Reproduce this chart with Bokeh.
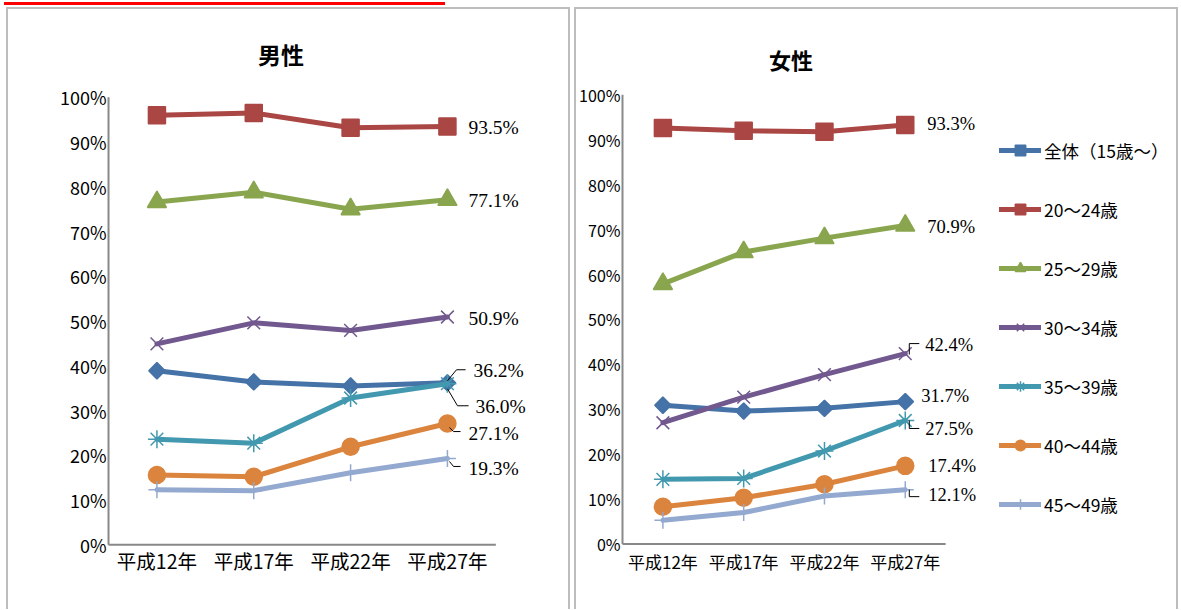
from bokeh.plotting import figure
from bokeh.models import (Range1d, FixedTicker, PrintfTickFormatter, ColumnDataSource,
                          LabelSet, Label, Legend, LegendItem, Div)
from bokeh.layouts import row, column
from bokeh.embed import file_html
from bokeh.resources import INLINE
import math

# ---------------- data ----------------
years = ["平成12年", "平成17年", "平成22年", "平成27年"]
series_names = ["全体（15歳～）", "20～24歳", "25～29歳", "30～34歳", "35～39歳", "40～44歳", "45～49歳"]
y_ticks = [0, 10, 20, 30, 40, 50, 60, 70, 80, 90, 100]

male_all = [38.9, 36.4, 35.5, 36.2]
male_20_24 = [96.0, 96.5, 93.2, 93.5]
male_25_29 = [76.6, 78.8, 75.0, 77.1]
male_30_34 = [44.9, 49.6, 47.9, 50.9]
male_35_39 = [23.6, 22.7, 32.8, 36.0]
male_40_44 = [15.6, 15.2, 21.9, 27.1]
male_45_49 = [12.3, 12.1, 16.1, 19.3]

female_all = [30.9, 29.6, 30.2, 31.7]
female_20_24 = [92.6, 92.0, 91.8, 93.3]
female_25_29 = [57.9, 65.0, 68.1, 70.9]
female_30_34 = [27.0, 32.7, 37.7, 42.4]
female_35_39 = [14.4, 14.6, 20.7, 27.5]
female_40_44 = [8.3, 10.3, 13.3, 17.4]
female_45_49 = [5.3, 7.0, 10.7, 12.1]

male = [male_all, male_20_24, male_25_29, male_30_34, male_35_39, male_40_44, male_45_49]
female = [female_all, female_20_24, female_25_29, female_30_34, female_35_39, female_40_44, female_45_49]

# ---------------- styles ----------------
colors = ["#4572A7", "#AA4643", "#89A54E", "#71588F", "#4198AF", "#DB843D", "#93A9CF"]
markers = [("square", 11.5, math.pi / 4), ("square", 17, 0), ("triangle", 19, 0), ("x", 18, 0),
           ("asterisk", 18, 0), ("circle", 17, 0), ("cross", 17, 0)]
CJK = "Noto Sans CJK JP"
LABEL_FONT = "Liberation Sans"
BORDER = "2px solid #bdbdbd"
AXIS_COLOR = "#898989"

# label offsets (dx right, dy down, px) from last marker, and leader polylines
male_label_off = [(26, -12), (21, 1), (21, 1), (21, 1), (28, 23), (21, 10), (21, 10)]
male_leaders = {0: [(18, -13), (9, -13), (0, -2)], 4: [(0, 5), (10, 22), (21, 22)],
                5: [(2, 4), (6, 8), (13, 8)], 6: [(2, 3), (6, 8), (13, 8)]}
female_label_off = [(16, -6), (22, -1), (22, 1), (20, -9), (20, 9), (23, 0), (23, 5)]
female_leaders = {3: [(4, 1), (4, -10), (14, -10)], 4: [(4, 0), (4, 8), (14, 8)],
                  6: [(4, 0), (4, 7), (14, 7)]}


def make_panel(title, data, width, height, geo, fonts, title_pos,
               label_off, leaders, with_legend, x_standoff):
    # geo: canvas page origin, axis pixel positions and scale (px per category / per %)
    cx0, cy0, ax_x, zero_y, u, v, f_left, f_bottom, f_top = geo
    tick_size, xlab_size, label_size, title_size = fonts
    cw, ch = width - 4, height - 2
    mb_left = f_left - cx0
    mb_bottom = (cy0 + ch) - f_bottom
    mb_top = f_top - cy0
    f_right = cx0 + cw
    p = figure(x_range=Range1d((f_left - ax_x) / u, (f_right - ax_x) / u),
               y_range=Range1d((zero_y - f_bottom) / v, (zero_y - f_top) / v),
               width=width, height=height, output_backend="svg", toolbar_location=None,
               min_border_left=mb_left, min_border_right=0,
               min_border_top=mb_top, min_border_bottom=mb_bottom)
    p.styles = {"border-top": BORDER, "border-left": BORDER, "border-right": BORDER}
    p.outline_line_color = None
    p.xgrid.grid_line_color = None
    p.ygrid.grid_line_color = None
    for ax in (p.xaxis[0], p.yaxis[0]):
        ax.axis_line_color = None
        ax.major_tick_line_color = None
        ax.minor_tick_line_color = None
        ax.major_tick_out = 0
        ax.major_tick_in = 0
        ax.minor_tick_out = 0
        ax.minor_tick_in = 0
        ax.major_label_text_font = CJK
        ax.major_label_text_color = "#000000"
    p.xaxis.major_label_text_font_size = f"{xlab_size}px"
    p.yaxis.major_label_text_font_size = f"{tick_size}px"
    p.xaxis.major_label_standoff = x_standoff
    p.yaxis.major_label_standoff = 0
    xpos = [i + 0.5 for i in range(len(years))]
    p.xaxis.ticker = FixedTicker(ticks=xpos)
    p.xaxis.major_label_overrides = {x: y for x, y in zip(xpos, years)}
    p.yaxis.ticker = FixedTicker(ticks=y_ticks)
    p.yaxis.formatter = PrintfTickFormatter(format="%d%%")

    # axis lines drawn in data space
    p.line([0, 0], [y_ticks[0], y_ticks[-1]], line_color=AXIS_COLOR, line_width=2)
    p.line([0, len(years)], [0, 0], line_color=AXIS_COLOR, line_width=2)

    items = []
    for i, vals in enumerate(data):
        src = ColumnDataSource(dict(x=xpos, y=vals))
        lr = p.line("x", "y", source=src, line_color=colors[i], line_width=5,
                    line_join="round", line_cap="round")
        m, s, a = markers[i]
        sr = p.scatter("x", "y", source=src, marker=m, size=s, angle=a,
                       fill_color=colors[i], line_color=colors[i], line_width=1.5)
        items.append(LegendItem(label=series_names[i], renderers=[lr, sr]))

    # leaders
    xs, ys = [], []
    for i, pts in leaders.items():
        last = data[i][-1]
        xs.append([xpos[-1] + dx / u for dx, dy in pts])
        ys.append([last - dy / v for dx, dy in pts])
    if xs:
        p.multi_line(xs, ys, line_color="black", line_width=1)

    # end labels
    lsrc = ColumnDataSource(dict(
        x=[xpos[-1]] * len(data),
        y=[d[-1] for d in data],
        text=[f"{d[-1]:.1f}%" for d in data],
        xo=[o[0] for o in label_off],
        yo=[-o[1] for o in label_off],
    ))
    p.add_layout(LabelSet(x="x", y="y", text="text", source=lsrc, x_offset="xo", y_offset="yo",
                          text_font=LABEL_FONT, text_font_size=f"{label_size}px",
                          text_baseline="middle", text_align="left", text_color="black"))

    # title
    tx, ty = title_pos
    p.add_layout(Label(x=(tx - ax_x) / u, y=(zero_y - ty) / v, text=title, text_font=CJK,
                       text_font_size=f"{title_size}px", text_font_style="bold",
                       text_align="center", text_baseline="middle", text_color="black"))

    if with_legend:
        leg = Legend(items=items, location=(1000 - f_left, f_bottom - 520), orientation="vertical",
                     glyph_width=42, glyph_height=26, label_height=26, label_standoff=3,
                     spacing=33, padding=0, margin=0, border_line_color=None,
                     background_fill_alpha=0, label_text_font=CJK,
                     label_text_font_size="17.5px", label_text_color="black")
        p.add_layout(leg, "center")
    return p


# geo = (canvas x0, canvas y0, y-axis x, zero-line y, px/category, px/%, frame left, frame bottom, frame top)
p_male = make_panel("男性", male, 564, 602, (11, 11, 111, 544.3, 96, 4.458, 109, 546, 20),
                    (18, 19.5, 19.5, 23), (282, 55), male_label_off, male_leaders, False, -1)
p_female = make_panel("女性", female, 604, 602, (579, 11, 623, 546.5, 80.5, 4.5, 621, 549, 20),
                      (16, 17, 18.5, 22), (791, 61), female_label_off, female_leaders, True, 2)

red_rule = Div(text="", width=441, height=3, margin=(2, 0, 2, 4),
               styles={"background-color": "#ff0000"})
panels = row(p_male, p_female, spacing=4, margin=(0, 0, 0, 6))
layout = column(red_rule, panels, spacing=0)

open("out.html", "w").write(file_html(layout, INLINE))
